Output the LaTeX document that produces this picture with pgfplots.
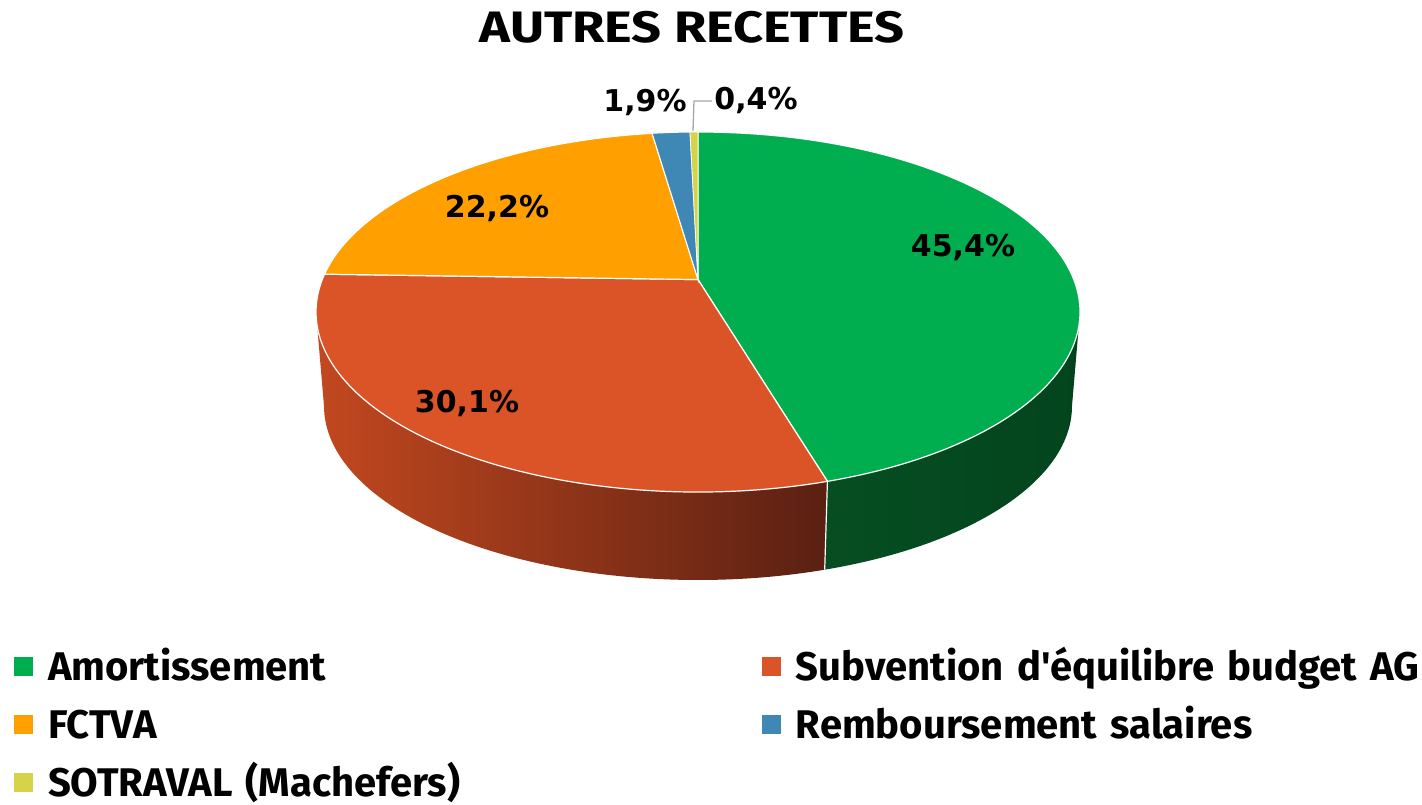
\documentclass[border=0pt]{standalone}
\usepackage{pgfplots}
\pgfplotsset{compat=1.18}
\usepackage{pgfplotstable}
\usepackage{graphicx}
\usepackage{fontspec}
\setmainfont{Fira Sans}
\newfontfamily\legfont{Fira Sans}
\newfontfamily\pctfont{DejaVu Sans}
\definecolor{cGreen}{HTML}{00AE4F}
\definecolor{cRed}{HTML}{DA5428}
\definecolor{cOrange}{HTML}{FF9F00}
\definecolor{cBlue}{HTML}{3F88B6}
\definecolor{cYellow}{HTML}{D6D24A}
\definecolor{wGreenL}{HTML}{064E22}
\definecolor{wGreenR}{HTML}{03441D}
\definecolor{wRedL}{HTML}{C2481F}
\definecolor{wRedR}{HTML}{5A2012}
\definecolor{leader}{HTML}{A6A6A6}

\pgfplotstableread{
name pct
Amortissement 45.4
Subvention 30.1
FCTVA 22.2
Remboursement 1.9
SOTRAVAL 0.4
}\piedata

% perspective factor of the 3D view
\pgfmathsetmacro{\kk}{0.18}
\newcommand\mapangle[2]{%
  \pgfmathsetmacro\tmpx{cos(#1)*sqrt(1-\kk*\kk)/(1+\kk*sin(#1))}%
  \pgfmathsetmacro\tmpy{(sin(#1)+\kk)/(1+\kk*sin(#1))}%
  \pgfmathsetmacro\tmpd{atan2(\tmpy,\tmpx)-(#1)}%
  \pgfmathsetmacro#2{(#1)+\tmpd-360*round(\tmpd/360)}%
}
\newcommand\addpct[1]{\pgfplotstablegetelem{#1}{pct}\of\piedata%
  \pgfmathsetmacro\cum{\cum+\pgfplotsretval}}

\begin{document}%
\begin{tikzpicture}
\def\cum{0}
\mapangle{90}{\pA}
\addpct{0}\mapangle{90-3.6*\cum}{\pB}
\addpct{1}\mapangle{90-3.6*\cum}{\pC}
\addpct{2}\mapangle{90-3.6*\cum}{\pD}
\addpct{3}\mapangle{90-3.6*\cum}{\pE}
\addpct{4}\mapangle{90-3.6*\cum}{\pF}
\pgfmathsetmacro\gA{max(\pB,-180)}
\pgfmathsetmacro\gB{min(\pA,0)}
\pgfmathsetmacro\rA{max(\pC,-180)}
\pgfmathsetmacro\rB{min(\pB,0)}
\pgfmathsetmacro\apexy{492+\kk*180}
\begin{axis}[
  scale only axis, width=1422pt, height=804pt,
  xmin=0, xmax=1422, ymin=0, ymax=804,
  hide axis, clip=false,
  legend columns=2,
  legend cell align=left,
  legend style={at={(axis cs:14,154)}, anchor=north west, draw=none, fill=none,
    inner sep=0pt, outer sep=0pt, font=\legfont\bfseries\fontsize{40}{40}\selectfont,
    row sep=26pt, column sep=0pt,
    nodes={inner sep=0pt, outer sep=0pt, text width=700pt, text height=30pt, text depth=2pt, align=left},
    /tikz/every odd column/.style={column sep=15pt},
    /tikz/every even column/.style={column sep=14pt}},
  legend image code/.code={\fill[#1] (0pt,-9.5pt) rectangle (19pt,9.5pt);},
]
\addlegendimage{fill=cGreen, draw=none}
\addlegendentry{Amortissement}
\addlegendimage{fill=cRed, draw=none}
\addlegendentry{Subvention d'équilibre budget AG}
\addlegendimage{fill=cOrange, draw=none}
\addlegendentry{FCTVA}
\addlegendimage{fill=cBlue, draw=none}
\addlegendentry{Remboursement salaires}
\addlegendimage{fill=cYellow, draw=none}
\addlegendentry{SOTRAVAL (Machefers)}

% side walls (front half)
\path[left color=wGreenL, right color=wGreenR]
  (axis cs:{698+382*cos(\gA)},{492+180*sin(\gA)}) arc[start angle=\gA, end angle=\gB, x radius=382, y radius=180]
  -- (axis cs:{698+374*cos(\gB)},{398+174*sin(\gB)}) arc[start angle=\gB, end angle=\gA, x radius=374, y radius=174] -- cycle;
\path[left color=wRedL, right color=wRedR]
  (axis cs:{698+382*cos(\rA)},{492+180*sin(\rA)}) arc[start angle=\rA, end angle=\rB, x radius=382, y radius=180]
  -- (axis cs:{698+374*cos(\rB)},{398+174*sin(\rB)}) arc[start angle=\rB, end angle=\rA, x radius=374, y radius=174] -- cycle;
\draw[white, line width=1.2pt] (axis cs:{698+382*cos(\pB)},{492+180*sin(\pB)}) -- (axis cs:{698+374*cos(\pB)},{398+174*sin(\pB)});

% top faces
\filldraw[fill=cGreen, draw=white, line width=1.2pt] (axis cs:698,\apexy) -- (axis cs:{698+382*cos(\pA)},{492+180*sin(\pA)}) arc[start angle=\pA, end angle=\pB, x radius=382, y radius=180] -- cycle;
\filldraw[fill=cRed, draw=white, line width=1.2pt] (axis cs:698,\apexy) -- (axis cs:{698+382*cos(\pB)},{492+180*sin(\pB)}) arc[start angle=\pB, end angle=\pC, x radius=382, y radius=180] -- cycle;
\filldraw[fill=cOrange, draw=white, line width=1.2pt] (axis cs:698,\apexy) -- (axis cs:{698+382*cos(\pC)},{492+180*sin(\pC)}) arc[start angle=\pC, end angle=\pD, x radius=382, y radius=180] -- cycle;
\filldraw[fill=cBlue, draw=white, line width=1pt] (axis cs:698,\apexy) -- (axis cs:{698+382*cos(\pD)},{492+180*sin(\pD)}) arc[start angle=\pD, end angle=\pE, x radius=382, y radius=180] -- cycle;
\filldraw[fill=cYellow, draw=white, line width=0.6pt] (axis cs:698,\apexy) -- (axis cs:{698+382*cos(\pE)},{492+180*sin(\pE)}) arc[start angle=\pE, end angle=\pF, x radius=382, y radius=180] -- cycle;

% leader line
\draw[leader, line width=1.3pt] (axis cs:693,673) -- (axis cs:694,703) -- (axis cs:712,703);

% labels
\begin{scope}[every node/.style={font=\pctfont\bfseries\fontsize{30}{30}\selectfont, anchor=base, inner sep=0pt}]
\node at (axis cs:963,547) {45,4\%};
\node at (axis cs:467,391) {30,1\%};
\node at (axis cs:497,586) {22,2\%};
\node at (axis cs:645,692) {1,9\%};
\node at (axis cs:756,694) {0,4\%};
\end{scope}
\node[font=\legfont\bfseries\fontsize{44}{44}\selectfont, anchor=base, inner sep=0pt] at (axis cs:692,761) {\scalebox{1.19}[1]{AUTRES RECETTES}};
\end{axis}
\pgfresetboundingbox
\path[use as bounding box] (0,0) rectangle (1422pt,804pt);
\end{tikzpicture}%
\end{document}
